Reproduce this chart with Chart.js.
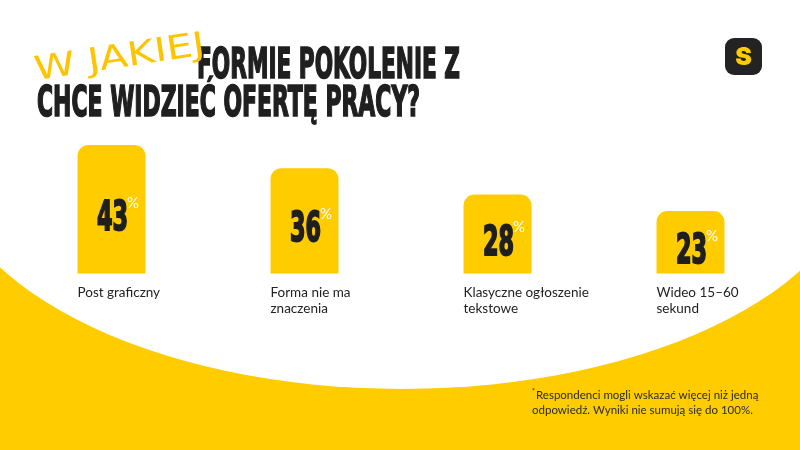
<!DOCTYPE html>
<html>
<head>
<meta charset="utf-8">
<script src="https://cdn.jsdelivr.net/npm/chart.js@4"></script>
<style>
  html, body { margin: 0; padding: 0; background: #fff; }
  #wrap { width: 800px; height: 450px; }
</style>
</head>
<body>
<div id="wrap"><canvas id="chart" width="800" height="450"></canvas></div>
<script>
const categories = [
    ["Post graficzny"],
    ["Forma nie ma", "znaczenia"],
    ["Klasyczne ogłoszenie", "tekstowe"],
    ["Wideo 15–60", "sekund"]
];
const shares = [43, 36, 28, 23];

const titleHand = "W JAKIEJ";
const titleLine1 = "FORMIE POKOLENIE Z";
const titleLine2 = "CHCE WIDZIEĆ OFERTĘ PRACY?";
const footnote = ["Respondenci mogli wskazać więcej niż jedną", "odpowiedź. Wyniki nie sumują się do 100%."];

const YELLOW = "#FFCC00";
const INK = "#1f1f1f";
const CONDENSED = "'Liberation Sans Narrow', 'DejaVu Sans Condensed', sans-serif";

// draw text squeezed into a box (left, baseline, width), stretched tall
function fitText(ctx, text, x, y, width, size, stretchY) {
    ctx.save();
    ctx.font = "bold " + size + "px " + CONDENSED;
    const w = ctx.measureText(text).width;
    ctx.translate(x, y);
    ctx.scale(width / w, stretchY);
    ctx.textAlign = "left";
    ctx.textBaseline = "alphabetic";
    ctx.fillText(text, 0, 0);
    ctx.lineWidth = 1.6;
    ctx.strokeStyle = ctx.fillStyle;
    ctx.strokeText(text, 0, 0);
    ctx.restore();
}

const backdrop = {
    id: "backdrop",
    beforeDraw(chart) {
        const ctx = chart.ctx;
        ctx.save();
        ctx.fillStyle = YELLOW;
        ctx.fillRect(0, 0, chart.width, chart.height);
        ctx.fillStyle = "#fff";
        ctx.fillRect(0, 0, chart.width, 151);
        ctx.beginPath();
        ctx.ellipse(402, 152, 460, 237, 0, 0, Math.PI * 2);
        ctx.fill();

        // headline
        ctx.fillStyle = INK;
        fitText(ctx, titleLine1, 197, 78, 263, 40, 1.08);
        fitText(ctx, titleLine2, 37, 116, 383, 40, 1.08);

        // handwritten part
        ctx.save();
        ctx.translate(36, 80);
        ctx.rotate(-0.15);
        ctx.fillStyle = "#FFC400";
        ctx.font = "30px 'DejaVu Sans', sans-serif";
        const hw = ctx.measureText(titleHand).width;
        ctx.scale(172 / hw, 1.1);
        ctx.fillText(titleHand, 0, 0);
        ctx.restore();

        // logo
        ctx.fillStyle = "#232323";
        ctx.beginPath();
        ctx.roundRect(725, 38, 37, 37, 9);
        ctx.fill();
        ctx.fillStyle = YELLOW;
        ctx.font = "900 25px Inter, sans-serif";
        ctx.textAlign = "center";
        ctx.textBaseline = "middle";
        ctx.fillText("S", 743.5, 57);

        // footnote
        ctx.fillStyle = "#2a2a2a";
        ctx.textAlign = "left";
        ctx.textBaseline = "middle";
        ctx.font = "7px Lato, sans-serif";
        ctx.fillText("*", 532, 392);
        ctx.font = "11.5px Lato, sans-serif";
        ctx.fillText(footnote[0], 536, 395);
        ctx.fillText(footnote[1], 532, 410);
        ctx.restore();
    }
};

const valueLabels = {
    id: "valueLabels",
    afterDatasetsDraw(chart) {
        const ctx = chart.ctx;
        const meta = chart.getDatasetMeta(0);
        meta.data.forEach((bar, i) => {
            const cx = bar.x + 1;
            const cy = (bar.y + bar.base) / 2;
            const txt = String(shares[i]);
            ctx.save();
            ctx.font = "bold 40px " + CONDENSED;
            const w = ctx.measureText(txt).width;
            const targetW = 31;
            ctx.translate(cx - targetW / 2, cy + 14);
            ctx.scale(targetW / w, 1);
            ctx.fillStyle = INK;
            ctx.textBaseline = "alphabetic";
            ctx.fillText(txt, 0, 0);
            ctx.lineWidth = 2;
            ctx.strokeStyle = INK;
            ctx.strokeText(txt, 0, 0);
            ctx.restore();

            ctx.save();
            ctx.fillStyle = "#fff";
            ctx.font = "15px Lato, sans-serif";
            ctx.textBaseline = "middle";
            ctx.fillText("%", cx + targetW / 2 - 1, cy - 13);
            ctx.restore();
        });
    }
};

new Chart(document.getElementById("chart"), {
    type: "bar",
    data: {
        labels: categories,
        datasets: [{
            data: shares,
            backgroundColor: YELLOW,
            borderRadius: { topLeft: 11, topRight: 11, bottomLeft: 0, bottomRight: 0 },
            borderSkipped: "bottom",
            categoryPercentage: 1,
            barPercentage: 0.352
        }]
    },
    options: {
        responsive: false,
        animation: false,
        layout: { padding: { top: 122, bottom: 122, left: 15, right: 13 } },
        plugins: {
            legend: { display: false },
            tooltip: { enabled: false }
        },
        scales: {
            x: {
                grid: { display: false, drawTicks: false },
                border: { display: false },
                ticks: {
                    align: "start",
                    labelOffset: -34,
                    padding: 11,
                    maxRotation: 0,
                    autoSkip: false,
                    color: "#222",
                    font: { family: "Lato, sans-serif", size: 13.5, lineHeight: 1.2 }
                }
            },
            y: {
                display: false,
                min: 4,
                max: 50
            }
        }
    },
    plugins: [backdrop, valueLabels]
});
</script>
</body>
</html>
